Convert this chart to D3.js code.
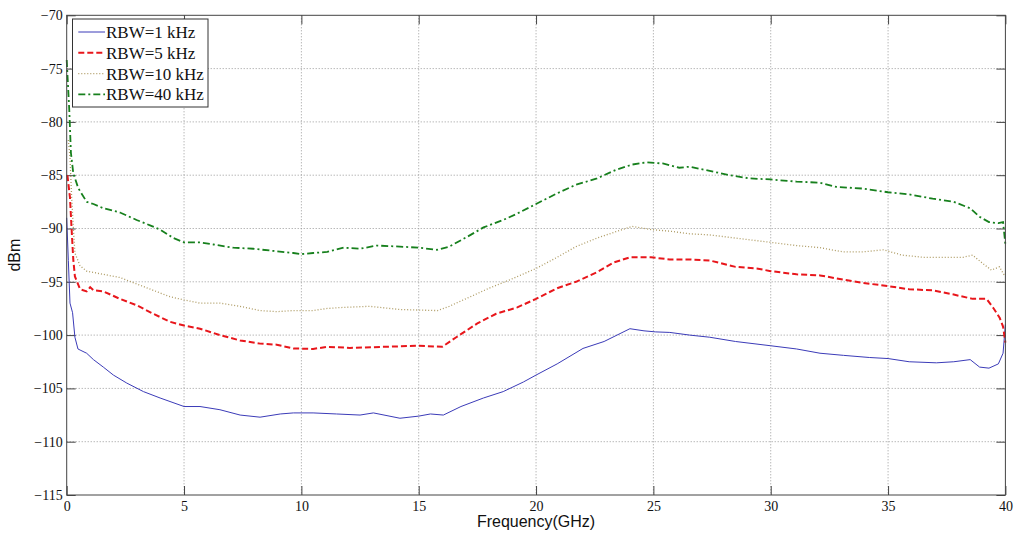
<!DOCTYPE html>
<html>
<head>
<meta charset="utf-8">
<script src="https://d3js.org/d3.v7.min.js"></script>
<style>
    body { margin: 0; background: #fff; }
    svg { display: block; }
</style>
</head>
<body>
<div id="chart"></div>
<script>
    // values (GHz, dBm)
    const xTicks = [0, 5, 10, 15, 20, 25, 30, 35, 40]
    const yTicks = [-70, -75, -80, -85, -90, -95, -100, -105, -110, -115]

    const seriesNames = ["RBW=1 kHz", "RBW=5 kHz", "RBW=10 kHz", "RBW=40 kHz"]

    const rbw1Freq = [0, 0.07, 0.14, 0.25, 0.35, 0.48, 0.57, 0.85, 1.14, 1.56, 1.99, 2.56, 3.27, 3.98, 5, 5.68, 6.53, 7.39, 8.24, 9.1, 9.66, 10.5, 11.5, 12.5, 13.07, 14.2, 15, 15.5, 16.05, 16.8, 17.76, 18.6, 19.46, 20, 20.9, 22.0, 22.9, 24.0, 24.6, 25.1, 25.7, 26.55, 27.4, 28.5, 30, 31.1, 32.1, 33.1, 34.2, 35, 35.9, 37.06, 37.8, 38.5, 38.9, 39.3, 39.7, 39.9, 40]
    const rbw1Db = [-89.0, -93.0, -97.0, -97.9, -100.2, -101.3, -101.4, -101.7, -102.3, -103.0, -103.75, -104.5, -105.3, -105.9, -106.7, -106.7, -107.0, -107.5, -107.7, -107.4, -107.3, -107.3, -107.4, -107.5, -107.3, -107.8, -107.6, -107.4, -107.5, -106.7, -105.9, -105.3, -104.4, -103.75, -102.7, -101.25, -100.6, -99.4, -99.6, -99.7, -99.75, -100.0, -100.2, -100.6, -101.0, -101.3, -101.7, -101.9, -102.1, -102.2, -102.5, -102.6, -102.5, -102.3, -103.0, -103.1, -102.7, -101.7, -99.0]

    const rbw5Freq = [0.03, 0.14, 0.21, 0.28, 0.35, 0.57, 0.85, 1.0, 1.14, 1.56, 2.27, 2.98, 3.69, 4.4, 5, 5.68, 6.53, 7.39, 8.24, 8.95, 9.66, 10.5, 11.1, 12.07, 13.5, 15, 16, 16.6, 17.5, 18.3, 19.2, 20, 20.9, 21.7, 22.6, 23.3, 24.0, 24.9, 25.7, 26.55, 27.4, 28.5, 29.4, 30, 31.1, 32.1, 33.1, 33.9, 35, 35.9, 36.9, 37.8, 38.6, 39.2, 39.5, 39.76, 39.9, 40]
    const rbw5Db = [-85.0, -87.1, -90.1, -92.9, -94.5, -95.7, -95.9, -95.5, -95.8, -95.9, -96.6, -97.2, -98.0, -98.75, -99.1, -99.4, -100.0, -100.5, -100.8, -100.9, -101.25, -101.3, -101.1, -101.2, -101.1, -101.0, -101.1, -100.2, -98.9, -98.0, -97.4, -96.6, -95.6, -95.0, -94.1, -93.2, -92.7, -92.7, -92.9, -92.9, -93.0, -93.6, -93.75, -94.0, -94.3, -94.4, -94.8, -95.1, -95.4, -95.7, -95.8, -96.2, -96.6, -96.6, -97.5, -98.4, -99.2, -100.7]

    const rbw10Freq = [0.07, 0.14, 0.21, 0.28, 0.35, 0.57, 0.85, 1.56, 2.27, 2.98, 3.69, 4.4, 5, 5.68, 6.53, 7.39, 8.24, 8.95, 9.66, 10.5, 11.1, 11.8, 12.9, 14.2, 15.8, 16.3, 17.2, 18.0, 18.9, 20, 20.9, 21.7, 22.6, 23.4, 24.1, 24.9, 25.7, 26.55, 27.4, 28.5, 30, 31.1, 32.1, 33.1, 33.9, 34.8, 35.6, 36.5, 37.3, 38.2, 38.6, 39.05, 39.4, 39.75, 39.9, 40]
    const rbw10Db = [-81.7, -83.3, -87.0, -89.8, -92.3, -93.5, -94.0, -94.3, -94.6, -95.2, -95.8, -96.4, -96.7, -97.0, -97.0, -97.3, -97.7, -97.8, -97.7, -97.7, -97.5, -97.4, -97.3, -97.6, -97.7, -97.3, -96.4, -95.6, -94.8, -93.75, -92.7, -91.7, -90.9, -90.3, -89.8, -90.1, -90.25, -90.5, -90.6, -90.9, -91.3, -91.6, -91.8, -92.2, -92.2, -92.0, -92.5, -92.7, -92.7, -92.7, -92.5, -93.3, -93.9, -93.6, -94.2, -94.5]

    const rbw40Freq = [0.0, 0.11, 0.18, 0.28, 0.49, 0.85, 1.14, 1.56, 2.27, 2.98, 3.55, 3.98, 4.55, 5, 5.68, 6.25, 7.1, 7.95, 8.8, 9.66, 10, 10.5, 11.1, 11.8, 12.5, 13.2, 14.2, 15, 15.77, 16.3, 17.05, 17.76, 18.6, 19.2, 20, 20.9, 21.7, 22.6, 23.4, 24.1, 24.7, 25.4, 26.1, 26.55, 27.4, 28.25, 29.1, 30, 31.1, 32.1, 32.8, 33.9, 35, 35.9, 36.9, 37.8, 38.5, 38.9, 39.3, 39.7, 39.9, 40]
    const rbw40Db = [-74.2, -78.9, -82.9, -84.8, -86.2, -87.5, -87.7, -88.1, -88.5, -89.2, -89.7, -90.1, -90.9, -91.3, -91.3, -91.5, -91.8, -91.9, -92.1, -92.3, -92.4, -92.3, -92.2, -91.8, -91.9, -91.6, -91.7, -91.8, -92.0, -91.7, -90.8, -89.9, -89.2, -88.6, -87.7, -86.7, -85.9, -85.3, -84.5, -84.0, -83.8, -83.9, -84.3, -84.2, -84.6, -85.0, -85.3, -85.4, -85.6, -85.7, -86.1, -86.25, -86.6, -86.8, -87.2, -87.5, -88.1, -88.9, -89.4, -89.5, -89.4, -91.5]

    const width = 1019
    const height = 534
    const margin = { left: 66.7, right: 13.6, top: 15.3, bottom: 39 }
    const innerW = width - margin.left - margin.right
    const innerH = height - margin.top - margin.bottom

    const serif = "'Liberation Serif', 'Times New Roman', serif"
    const sans = "'Liberation Sans', Arial, sans-serif"

    const xScale = d3.scaleLinear().domain([0, 40]).range([0, innerW])
    const yScale = d3.scaleLinear().domain([-115, -70]).range([innerH, 0])

    const svg = d3.select("#chart").append("svg")
        .attr("width", width)
        .attr("height", height)

    const g = svg.append("g")
        .attr("transform", "translate(" + margin.left + "," + margin.top + ")")

    // dotted grid
    g.append("g").selectAll("line")
        .data(xTicks.slice(1, -1))
        .enter().append("line")
        .attr("x1", d => xScale(d)).attr("x2", d => xScale(d))
        .attr("y1", 0).attr("y2", innerH)
        .attr("stroke", "#999").attr("stroke-width", 1)
        .attr("stroke-dasharray", "1,2")
    g.append("g").selectAll("line")
        .data(yTicks.slice(1, -1))
        .enter().append("line")
        .attr("y1", d => yScale(d)).attr("y2", d => yScale(d))
        .attr("x1", 0).attr("x2", innerW)
        .attr("stroke", "#999").attr("stroke-width", 1)
        .attr("stroke-dasharray", "1,2")

    const styleAxis = (sel) => {
        sel.selectAll(".domain").remove()
        sel.selectAll(".tick line").attr("stroke", "#444")
        sel.selectAll("text")
            .attr("font-family", serif)
            .attr("font-size", 14)
            .attr("fill", "#111")
    }

    g.append("g")
        .attr("transform", "translate(0," + innerH + ")")
        .call(d3.axisBottom(xScale).tickValues(xTicks).tickSize(-9).tickPadding(6).tickFormat(d3.format("d")))
        .call(styleAxis)
    g.append("g")
        .call(d3.axisTop(xScale).tickValues(xTicks).tickSize(-9).tickFormat(""))
        .call(styleAxis)
    g.append("g")
        .call(d3.axisLeft(yScale).tickValues(yTicks).tickSize(-9).tickPadding(4).tickFormat(d3.format("d")))
        .call(styleAxis)
    g.append("g")
        .attr("transform", "translate(" + innerW + ",0)")
        .call(d3.axisRight(yScale).tickValues(yTicks).tickSize(-9).tickFormat(""))
        .call(styleAxis)

    const series = [
        { name: seriesNames[0], freq: rbw1Freq, db: rbw1Db, color: "#3b3bb8", width: 1, dash: null },
        { name: seriesNames[1], freq: rbw5Freq, db: rbw5Db, color: "#e8161b", width: 2, dash: "6,3" },
        { name: seriesNames[2], freq: rbw10Freq, db: rbw10Db, color: "#ad9a62", width: 1.3, dash: "1,2" },
        { name: seriesNames[3], freq: rbw40Freq, db: rbw40Db, color: "#17801d", width: 1.8, dash: "7,3,2,3" }
    ]

    const line = d3.line()
        .x(d => xScale(d[0]))
        .y(d => yScale(d[1]))

    series.forEach(s => {
        const pts = s.freq.map((f, i) => [f, s.db[i]])
        g.append("path")
            .datum(pts)
            .attr("d", line)
            .attr("fill", "none")
            .attr("stroke", s.color)
            .attr("stroke-width", s.width)
            .attr("stroke-dasharray", s.dash)
    })

    // frame
    g.append("rect")
        .attr("x", 0).attr("y", 0)
        .attr("width", innerW).attr("height", innerH)
        .attr("fill", "none")
        .attr("stroke", "#444")
        .attr("stroke-width", 1)

    // legend
    const legend = svg.append("g")
        .attr("transform", "translate(72.5,19)")
    legend.append("rect")
        .attr("width", 135.5).attr("height", 88)
        .attr("fill", "#fff")
        .attr("stroke", "#333")
        .attr("stroke-width", 1)
    series.forEach((s, i) => {
        const y = 13 + i * 20.8
        legend.append("line")
            .attr("x1", 5.8).attr("x2", 32.5)
            .attr("y1", y).attr("y2", y)
            .attr("stroke", s.color)
            .attr("stroke-width", s.width)
            .attr("stroke-dasharray", s.dash)
        legend.append("text")
            .attr("x", 33.5).attr("y", y + 6)
            .attr("font-family", serif)
            .attr("font-size", 17)
            .attr("fill", "#111")
            .text(s.name)
    })

    // axis labels
    svg.append("text")
        .attr("x", margin.left + innerW / 2)
        .attr("y", 527)
        .attr("text-anchor", "middle")
        .attr("font-family", sans)
        .attr("font-size", 16)
        .attr("fill", "#111")
        .text("Frequency(GHz)")
    svg.append("text")
        .attr("transform", "translate(20," + (margin.top + innerH / 2) + ") rotate(-90)")
        .attr("text-anchor", "middle")
        .attr("font-family", sans)
        .attr("font-size", 16)
        .attr("fill", "#111")
        .text("dBm")
</script>
</body>
</html>
